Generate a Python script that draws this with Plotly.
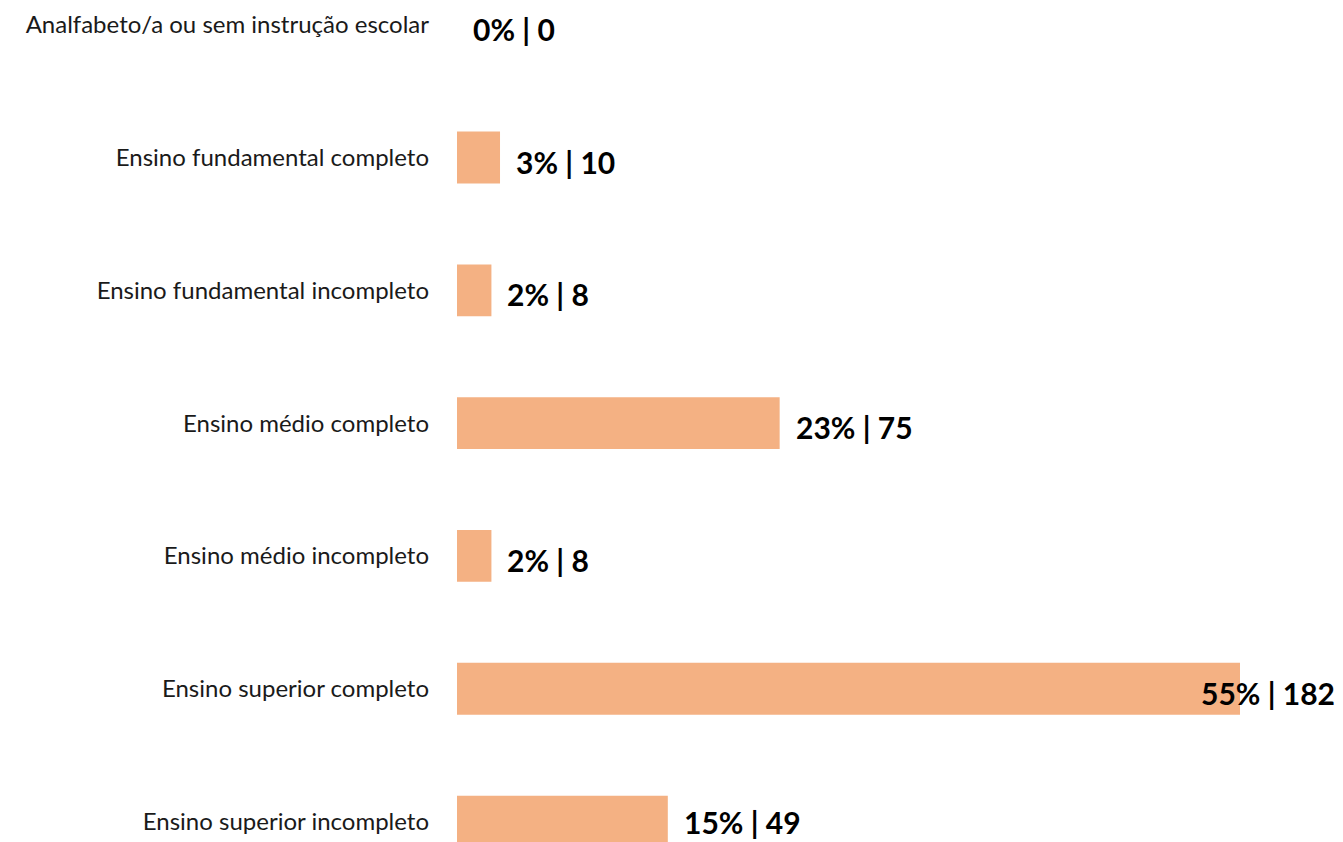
import plotly.graph_objects as go

# Escolaridade dos respondentes
categorias = [
    "Analfabeto/a ou sem instrução escolar",
    "Ensino fundamental completo",
    "Ensino fundamental incompleto",
    "Ensino médio completo",
    "Ensino médio incompleto",
    "Ensino superior completo",
    "Ensino superior incompleto",
]
quantidades = [0, 10, 8, 75, 8, 182, 49]
percentuais = [0, 3, 2, 23, 2, 55, 15]

COR_BARRA = "#f4b183"

fig = go.Figure(
    go.Bar(
        x=quantidades,
        y=categorias,
        orientation="h",
        width=0.39,
        marker=dict(color=COR_BARRA, line=dict(width=0)),
        hoverinfo="skip",
    )
)

maior = max(quantidades)
fonte_rotulo = dict(family="Lato", size=30, color="#000000")
ultima = categorias[-1]
for cat, q, p in zip(categorias, quantidades, percentuais):
    rotulo = f"<b>{p}% | {q}</b>"
    # a última linha fica no limite inferior da figura: sem deslocamento
    desloc_y = 0 if cat == ultima else -4
    if q == maior:
        # rótulo do maior valor encostado na borda direita
        fig.add_annotation(
            x=1, xref="paper", y=cat, yref="y", text=rotulo,
            xanchor="right", yanchor="middle", showarrow=False,
            xshift=-6, yshift=desloc_y, font=fonte_rotulo,
        )
    else:
        fig.add_annotation(
            x=q, y=cat, text=rotulo,
            xanchor="left", yanchor="middle", showarrow=False,
            xshift=14, yshift=desloc_y, font=fonte_rotulo,
        )

fig.update_layout(
    width=1343,
    height=842,
    margin=dict(l=457, r=0, t=0, b=0),
    paper_bgcolor="white",
    plot_bgcolor="white",
    showlegend=False,
    font=dict(family="Lato", size=24, color="#1a1a1a"),
    xaxis=dict(
        range=[0, maior * 886 / 783],
        visible=False,
        showgrid=False,
        zeroline=False,
    ),
    yaxis=dict(
        type="category",
        range=[6.154, -0.186],
        showgrid=False,
        zeroline=False,
        showline=False,
        ticks="",
        ticklabelstandoff=27,
        tickfont=dict(family="Lato", size=24, color="#1a1a1a"),
    ),
)

fig.write_html("out.html")
